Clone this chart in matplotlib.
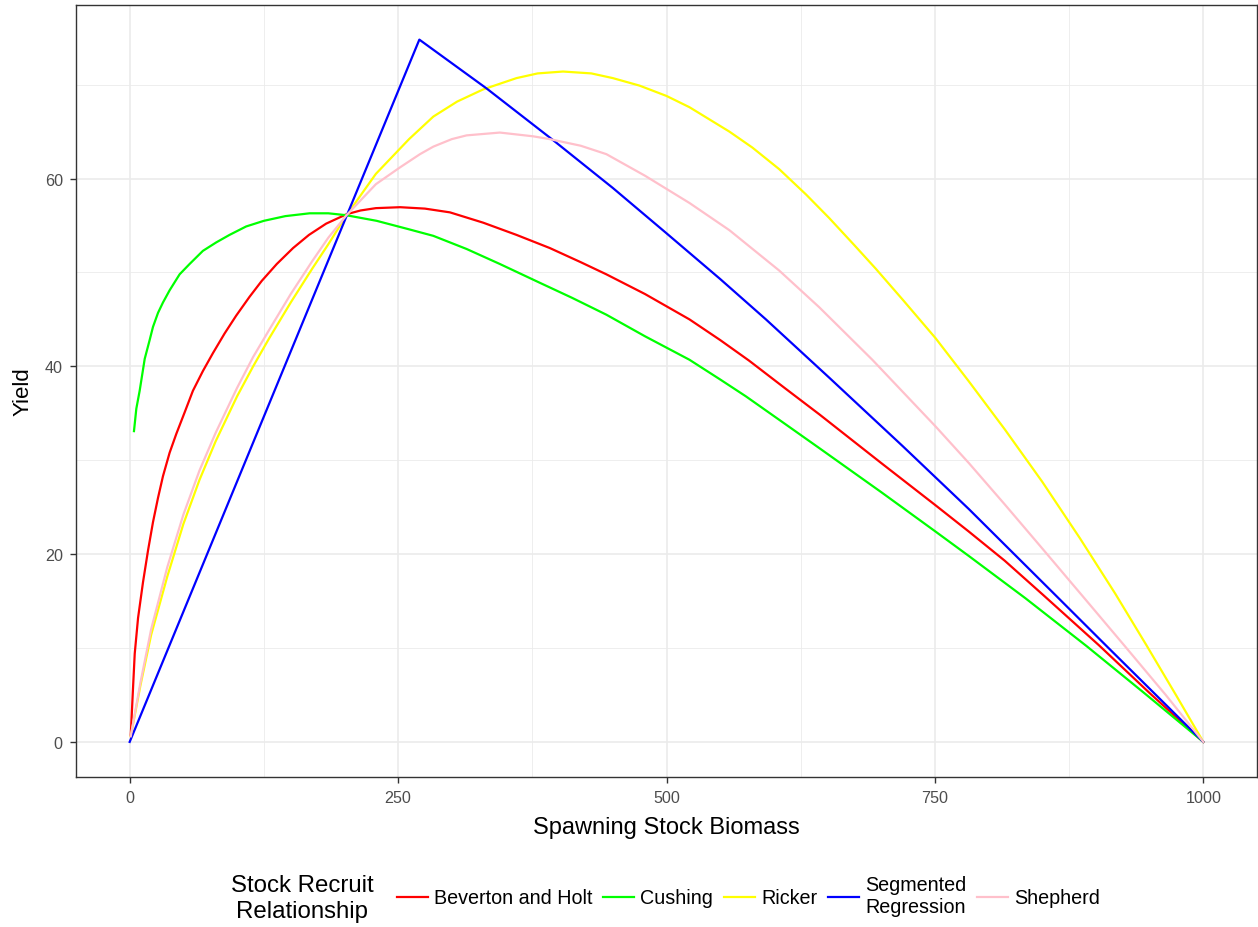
import numpy as np
import matplotlib
matplotlib.use("Agg")
import matplotlib.pyplot as plt
from matplotlib.lines import Line2D

plt.rcParams['font.family'] = ['Liberation Sans', 'DejaVu Sans']

# values
bh_x = [1, 3.1, 4.7, 7.8, 12.4, 17.1, 21.7, 26.4, 31, 37.2, 43.4, 51.2, 58.9, 68.2, 77.5,
        88.4, 99.2, 111.6, 123, 137, 152.2, 167, 183, 202, 215, 229.3, 251.9, 275, 298.3,
        329.3, 360.3, 391.3, 420, 444, 480, 521.4, 550, 577, 610, 642.2, 700, 750.6,
        781.6, 815, 851.3, 902.7, 950, 1000]
bh_y = [0.7, 5.7, 9.4, 13.2, 17.0, 20.4, 23.4, 26.0, 28.3, 30.8, 32.8, 35.1, 37.4, 39.5, 41.4,
        43.5, 45.4, 47.4, 49.1, 50.9, 52.6, 54.0, 55.2, 56.2, 56.6, 56.85, 56.95, 56.8, 56.4,
        55.3, 54.0, 52.6, 51.1, 49.8, 47.7, 45.0, 42.8, 40.6, 37.7, 34.9, 29.7, 25.2,
        22.4, 19.3, 15.6, 10.3, 5.2, 0]

cush_x = [4.0, 6.2, 9.3, 14.0, 18.6, 21.7, 26.4, 31, 37.2, 46.5, 55.8, 68.2, 80.6, 93,
          108.5, 125, 145, 167.6, 185, 201.5, 230, 260, 282.8, 313.8, 344.8, 382, 412,
          444, 480, 521.4, 550, 574, 610, 642.2, 700, 750.6, 781.6, 834.3, 891.3, 945, 1000]
cush_y = [33.1, 35.5, 37.4, 40.8, 42.8, 44.2, 45.7, 46.8, 48.1, 49.8, 50.9, 52.3, 53.2, 54.0,
          54.9, 55.5, 56.0, 56.3, 56.3, 56.1, 55.5, 54.6, 53.9, 52.5, 50.9, 48.9, 47.3,
          45.5, 43.2, 40.7, 38.6, 36.8, 33.9, 31.3, 26.6, 22.4, 19.8, 15.3, 10.2, 5.2, 0]

ricker_x = [1, 10, 20, 35, 50, 65, 80, 100, 115, 130, 150, 170, 185, 202, 229.3, 260.2,
            282.8, 305, 329.3, 360.3, 380, 403.6, 430, 450, 474.9, 500, 521.4, 558.6,
            580, 605, 630, 651.5, 675, 694.9, 720, 750.6, 781.6, 815, 850, 885, 917.9,
            947, 975, 1000]
ricker_y = [0.6, 6.0, 11.4, 17.6, 23.2, 27.9, 32.0, 36.8, 40.0, 43.0, 46.8, 50.4, 53.0, 56.1,
            60.5, 64.2, 66.6, 68.2, 69.5, 70.7, 71.2, 71.4, 71.2, 70.7, 69.9, 68.8, 67.6,
            65.0, 63.3, 61.0, 58.3, 55.8, 52.9, 50.4, 47.1, 43.0, 38.4, 33.3, 27.7, 21.7,
            15.8, 10.3, 4.9, 0]

seg_x = [0, 269.8, 332.4, 394.3, 450, 499.7, 550, 592.6, 651.5, 720, 781.6, 865.2,
         911.7, 1000]
seg_y = [0, 74.8, 69.6, 64.1, 59.0, 54.2, 49.3, 45.0, 38.8, 31.5, 24.8, 15.3,
         10.0, 0]

shep_x = [1, 10, 20, 35, 50, 65, 80, 100, 115, 130, 150, 170, 185, 202, 229.3, 251.9,
          270.4, 282.8, 300, 313.8, 344.8, 375.8, 391.3, 420, 444, 480, 521.4, 558.6, 605,
          642.2, 691.7, 750.6, 781.6, 815, 850, 888.5, 926.9, 965, 1000]
shep_y = [0.6, 6.3, 12.0, 18.6, 24.2, 28.9, 32.9, 37.7, 41.0, 43.9, 47.7, 51.2, 53.7, 56.1,
          59.4, 61.2, 62.6, 63.4, 64.2, 64.6, 64.9, 64.5, 64.2, 63.5, 62.6, 60.3, 57.4, 54.5,
          50.2, 46.3, 40.7, 33.6, 29.7, 25.3, 20.6, 15.4, 10.2, 5.0, 0]

labels = ["Beverton and Holt", "Cushing", "Ricker", "Segmented\nRegression", "Shepherd"]
colors = ["#FF0000", "#00FF00", "#FFFF00", "#0000FF", "#FFC0CB"]
series = [(bh_x, bh_y), (cush_x, cush_y), (ricker_x, ricker_y), (seg_x, seg_y), (shep_x, shep_y)]

x_ticks = [0, 250, 500, 750, 1000]
y_ticks = [0, 20, 40, 60]

fig = plt.figure(figsize=(12.58, 9.28), dpi=100)
ax = fig.add_axes([76/1258, 1-778/928, (1257-76)/1258, (778-5.5)/928])

for (xs, ys), c in zip(series, colors):
    ax.plot(xs, ys, color=c, lw=1.6, solid_joinstyle='round', zorder=3)

ax.set_xlim(-50, 1050)
ax.set_ylim(-3.74, 78.54)
ax.set_xticks(x_ticks)
ax.set_yticks(y_ticks)
ax.set_xticks([125, 375, 625, 875], minor=True)
ax.set_yticks([10, 30, 50, 70], minor=True)
ax.grid(which='major', color='#EBEBEB', lw=1.2, zorder=0)
ax.grid(which='minor', color='#EBEBEB', lw=0.6, zorder=0)
ax.tick_params(which='minor', length=0)
ax.tick_params(which='major', length=4, width=1.0, color='#333333',
               labelcolor='#4D4D4D', labelsize=11.6, pad=5.5)
for s in ax.spines.values():
    s.set_color('#333333')
    s.set_linewidth(1.0)

ax.set_xlabel("Spawning Stock Biomass", fontsize=17, labelpad=8)
ax.set_ylabel("Yield", fontsize=16, labelpad=8)

handles = [Line2D([], [], color=c, lw=1.6) for c in colors]
fig.text(302/1258, 1-899/928, "Stock Recruit\nRelationship", ha='center', va='center',
         fontsize=17.3, linespacing=1.2)
fig.legend(handles, labels, loc='center left', bbox_to_anchor=(397/1258, 1-897/928),
           ncol=5, frameon=False, fontsize=14.2, handlelength=1.57, handletextpad=0.3,
           columnspacing=0.56, borderpad=0, borderaxespad=0)

fig.savefig("out.png", dpi=100)
